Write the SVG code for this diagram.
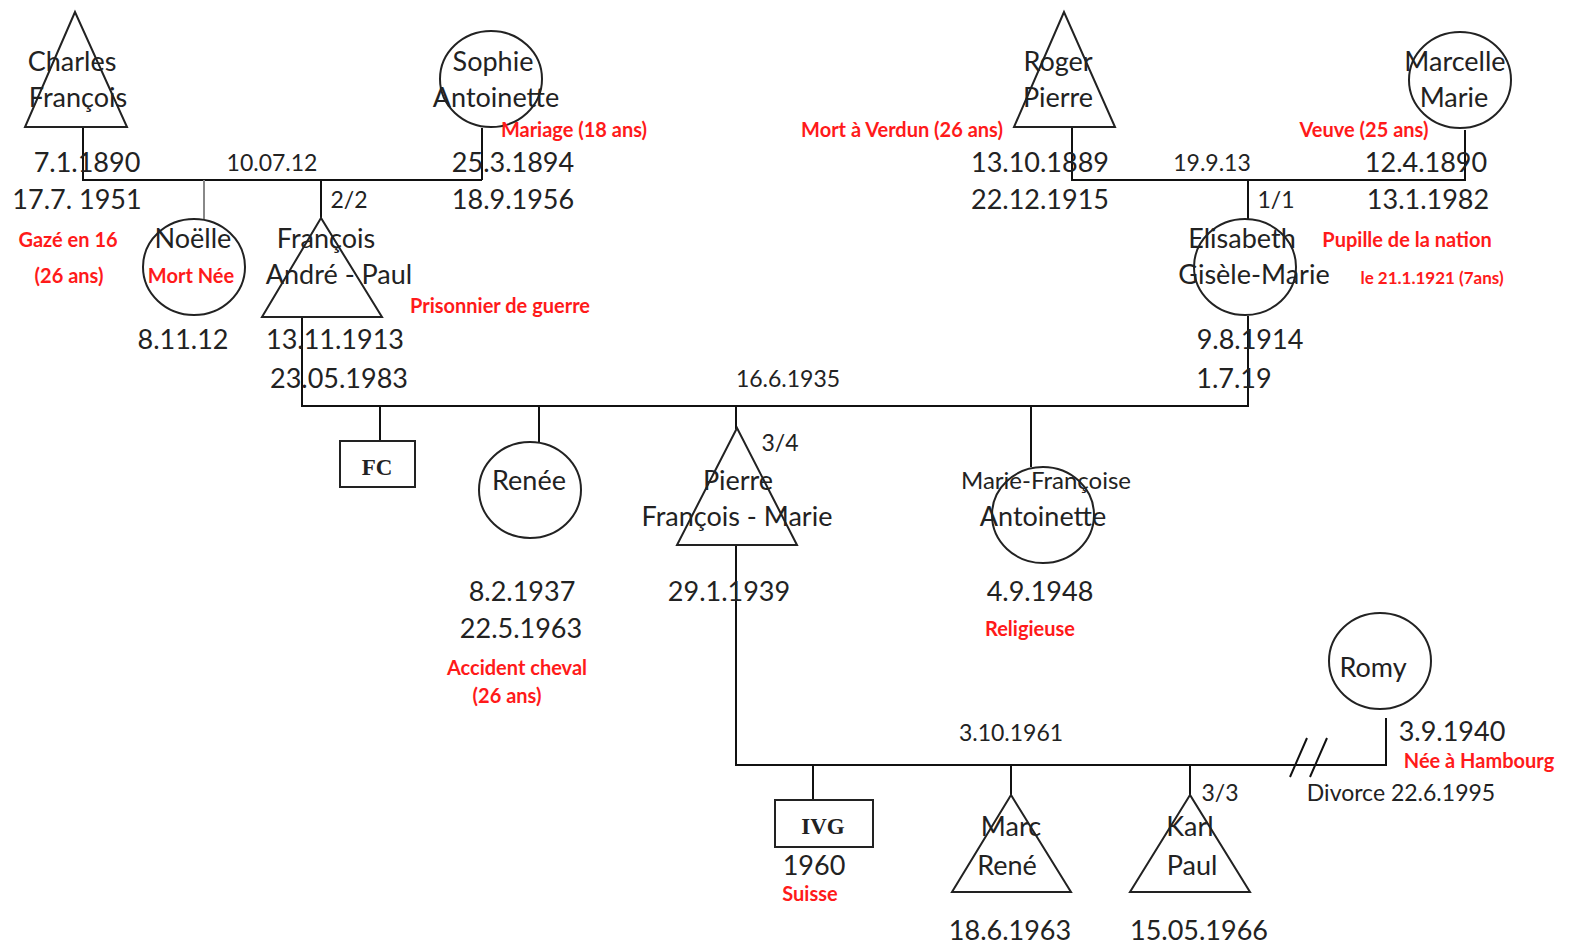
<svg xmlns="http://www.w3.org/2000/svg" width="1575" height="946" viewBox="0 0 1575 946">
<style>
.sh{fill:none;stroke:#222;stroke-width:2}
.ln{fill:none;stroke:#111;stroke-width:2}
text{font-family:Lato,"Liberation Sans",sans-serif;fill:#222;text-anchor:middle}
.m{font-size:27px}
.s{font-size:23px}
.r{font-size:20px;font-weight:bold;fill:#ff1a1a}
.sf{font-family:"Liberation Serif",serif;font-size:23px;font-weight:bold}
</style>
<rect width="1575" height="946" fill="#fff"/>
<g id="connectors">
<path class="ln" d="M83 127V180H482M482 128V180"/>
<path d="M204 180V219" fill="none" stroke="#888" stroke-width="2"/>
<path class="ln" d="M321 180V218"/>
<path class="ln" d="M302 317V406H1248V316"/>
<path class="ln" d="M380 406V441M539 406V442M736 406V429M1031 406V467"/>
<path class="ln" d="M1072 127V180H1465V130"/>
<path class="ln" d="M1248 180V219"/>
<path class="ln" d="M736 546V765H1386V718"/>
<path class="ln" d="M813 765V800M1011 765V796M1190 765V796"/>
<path class="ln" d="M1290 777L1307 738M1310 777L1327 738"/>
</g>
<g id="charles"><polygon class="sh" points="75,12 25,127 127,127"/><text class="m" x="72" y="71">Charles</text><text class="m" x="78" y="107">François</text><text class="m" x="87" y="172">7.1.1890</text><text class="m" x="77" y="209">17.7. 1951</text><text class="r" x="68" y="247">Gazé en 16</text><text class="r" x="69" y="283">(26 ans)</text></g>
<g id="sophie"><ellipse class="sh" cx="491" cy="79" rx="51" ry="48"/><text class="m" x="493" y="71">Sophie</text><text class="m" x="496" y="107">Antoinette</text><text class="r" x="574" y="137">Mariage (18 ans)</text><text class="m" x="513" y="172">25.3.1894</text><text class="m" x="513" y="209">18.9.1956</text></g>
<g id="m1912"><text class="s" x="272" y="171">10.07.12</text><text class="s" x="349" y="208">2/2</text></g>
<g id="noelle"><ellipse class="sh" cx="194" cy="267" rx="51" ry="48"/><text class="m" x="193" y="248">Noëlle</text><text class="r" x="191" y="283">Mort Née</text><text class="m" x="183" y="349">8.11.12</text></g>
<g id="francois"><polygon class="sh" points="321,218 262,317 382,317"/><text class="m" x="326" y="248">François</text><text class="m" x="339" y="284">André - Paul</text><text class="r" x="500" y="313">Prisonnier de guerre</text><text class="m" x="335" y="349">13.11.1913</text><text class="m" x="339" y="388">23.05.1983</text></g>
<g id="roger"><polygon class="sh" points="1064,12 1014,127 1115,127"/><text class="m" x="1058" y="71">Roger</text><text class="m" x="1058" y="107">Pierre</text><text class="r" x="902" y="137">Mort à Verdun (26 ans)</text><text class="m" x="1040" y="172">13.10.1889</text><text class="m" x="1040" y="209">22.12.1915</text></g>
<g id="marcelle"><ellipse class="sh" cx="1460" cy="80" rx="51" ry="48"/><text class="m" x="1455" y="71">Marcelle</text><text class="m" x="1454" y="107">Marie</text><text class="r" x="1364" y="137">Veuve (25 ans)</text><text class="m" x="1426" y="172">12.4.1890</text><text class="m" x="1428" y="209">13.1.1982</text></g>
<g id="m1913"><text class="s" x="1212" y="171">19.9.13</text><text class="s" x="1276" y="208">1/1</text></g>
<g id="elisabeth"><ellipse class="sh" cx="1245" cy="267" rx="51" ry="48"/><text class="m" x="1242" y="248">Elisabeth</text><text class="m" x="1254" y="284">Gisèle-Marie</text><text class="r" x="1407" y="247">Pupille de la nation</text><text class="r" x="1432" y="284" style="font-size:17px">le 21.1.1921 (7ans)</text><text class="m" x="1250" y="349">9.8.1914</text><text class="m" x="1234" y="388">1.7.19</text></g>
<g id="m1935"><text class="s" x="788" y="387">16.6.1935</text></g>
<g id="fc"><rect class="sh" x="340" y="441" width="75" height="46"/><text class="sf" x="377" y="475">FC</text></g>
<g id="renee"><ellipse class="sh" cx="530" cy="490" rx="51" ry="48"/><text class="m" x="529" y="490">Renée</text><text class="m" x="522" y="601">8.2.1937</text><text class="m" x="521" y="638">22.5.1963</text><text class="r" x="517" y="675">Accident cheval</text><text class="r" x="507" y="703">(26 ans)</text></g>
<g id="pierre"><polygon class="sh" points="737,428 677,545 797,545"/><text class="s" x="780" y="451">3/4</text><text class="m" x="738" y="490">Pierre</text><text class="m" x="737" y="526">François - Marie</text><text class="m" x="729" y="601">29.1.1939</text></g>
<g id="mariefrancoise"><ellipse class="sh" cx="1043" cy="515" rx="51" ry="48"/><text x="1046" y="489" style="font-size:24px">Marie-Françoise</text><text class="m" x="1043" y="526">Antoinette</text><text class="m" x="1040" y="601">4.9.1948</text><text class="r" x="1030" y="636">Religieuse</text></g>
<g id="romy"><ellipse class="sh" cx="1380" cy="661" rx="51" ry="48"/><text class="m" x="1373" y="677">Romy</text><text class="m" x="1452" y="741">3.9.1940</text><text class="r" x="1479" y="768">Née à Hambourg</text></g>
<g id="m1961"><text class="s" x="1011" y="741">3.10.1961</text><text class="s" x="1401" y="801">Divorce 22.6.1995</text></g>
<g id="ivg"><rect class="sh" x="775" y="800" width="98" height="47"/><text class="sf" x="823" y="834">IVG</text><text class="m" x="814" y="875">1960</text><text class="r" x="810" y="901">Suisse</text></g>
<g id="marc"><polygon class="sh" points="1011,795 952,892 1071,892"/><text class="m" x="1011" y="836">Marc</text><text class="m" x="1007" y="875">René</text><text class="m" x="1010" y="940">18.6.1963</text></g>
<g id="karl"><polygon class="sh" points="1190,795 1130,892 1250,892"/><text class="s" x="1220" y="801">3/3</text><text class="m" x="1190" y="836">Karl</text><text class="m" x="1192" y="875">Paul</text><text class="m" x="1199" y="940">15.05.1966</text></g>
</svg>
